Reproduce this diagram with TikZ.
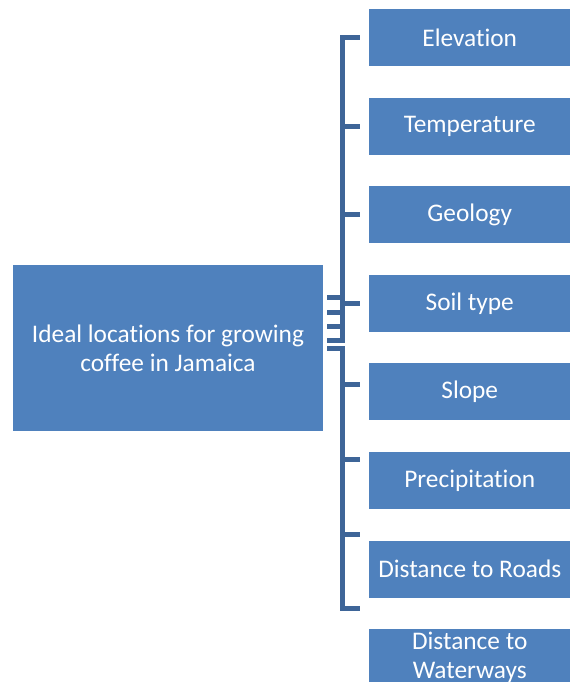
\documentclass[tikz,border=0pt]{standalone}
\usepackage{fontspec}
\setmainfont{Carlito}[Ligatures=NoCommon]
\usepackage{xcolor}
\usepackage{tikz}
\usetikzlibrary{positioning}

\definecolor{boxblue}{HTML}{4F81BD}
\definecolor{linkblue}{HTML}{3E6598}

\begin{document}
\begin{tikzpicture}[
        x=0.75pt, y=-0.75pt,
        node distance=23.3pt,
        topic/.style={rectangle, fill=boxblue, text=white, align=center, inner sep=0pt,
            minimum width=232.5pt, minimum height=124.5pt, font=\fontsize{19}{21.75}\selectfont},
        factor/.style={rectangle, fill=boxblue, text=white, align=center, inner sep=0pt,
            minimum width=150.4pt, minimum height=42.75pt, font=\fontsize{19}{21.75}\selectfont},
        link/.style={draw=linkblue, line width=3.75pt, line join=miter, line cap=butt}
    ]
        \clip (0,0) rectangle (572,682);

        % Main topic
        \node[topic] (topic) at (168,348) {Ideal locations for growing\\coffee in Jamaica};

        % Factors
        \node[factor] (elevation) at (469.75,37.5) {Elevation};
        \node[factor, below=of elevation] (temperature) {Temperature};
        \node[factor, below=of temperature] (geology) {Geology};
        \node[factor, below=of geology] (soil) {Soil type};
        \node[factor, below=of soil] (slope) {Slope};
        \node[factor, below=of slope] (precip) {Precipitation};
        \node[factor, below=of precip] (roads) {Distance to Roads};
        \node[factor, below=of roads] (waterways) {Distance to\\Waterways};

        % Upper connectors
        \draw[link] ([shift={(4,-50.5)}]topic.east) -| ([shift={(-27,0)}]elevation.west) -- ([shift={(-9.5,0)}]elevation.west);
        \draw[link] ([shift={(4,-35.5)}]topic.east) -| ([shift={(-27,0)}]temperature.west) -- ([shift={(-9.5,0)}]temperature.west);
        \draw[link] ([shift={(4,-21.5)}]topic.east) -| ([shift={(-27,0)}]geology.west) -- ([shift={(-9.5,0)}]geology.west);
        \draw[link] ([shift={(4,-7.5)}]topic.east) -| ([shift={(-27,0)}]soil.west) -- ([shift={(-9.5,0)}]soil.west);

        % Lower connectors
        \draw[link] ([shift={(4,0.5)}]topic.east) -| ([shift={(-27,-7)}]slope.west) -- ([shift={(-9.5,-7)}]slope.west);
        \draw[link] ([shift={(4,0.5)}]topic.east) -| ([shift={(-27,-21)}]precip.west) -- ([shift={(-9.5,-21)}]precip.west);
        \draw[link] ([shift={(4,0.5)}]topic.east) -| ([shift={(-27,-34.5)}]roads.west) -- ([shift={(-9.5,-34.5)}]roads.west);
        \draw[link] ([shift={(4,0.5)}]topic.east) -| ([shift={(-27,-49)}]waterways.west) -- ([shift={(-9.5,-49)}]waterways.west);
    \end{tikzpicture}
\end{document}
